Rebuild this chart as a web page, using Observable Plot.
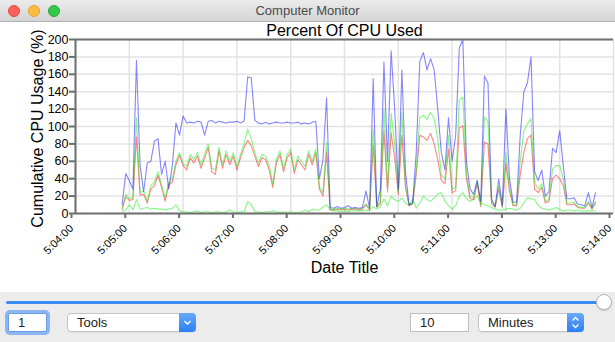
<!DOCTYPE html>
<html><head><meta charset="utf-8">
<script src="https://cdn.jsdelivr.net/npm/d3@7"></script>
<script src="https://cdn.jsdelivr.net/npm/@observablehq/plot@0.6"></script>
<style>
html,body{margin:0;padding:0;width:615px;height:342px;overflow:hidden;background:#fff;font-family:"Liberation Sans",Arial,Helvetica,sans-serif;}
#titlebar{position:absolute;left:0;top:0;width:615px;height:22px;background:linear-gradient(#ebebeb,#d4d4d4);border-bottom:1px solid #b3b3b3;box-sizing:border-box;text-align:center;font-size:13px;line-height:21px;color:#4a4a4a;}
.light{position:absolute;top:5px;width:12px;height:12px;border-radius:50%;box-sizing:border-box;}
#chart{position:absolute;left:0;top:22px;width:615px;height:270px;}
#controls{position:absolute;left:0;top:292px;width:615px;height:50px;background:#ececec;font-size:13px;color:#222;}
#track{position:absolute;left:6px;top:9px;width:592px;height:3px;border-radius:2px;background:#3b8cf5;}
#knob{position:absolute;left:596px;top:2px;width:16px;height:16px;border-radius:50%;background:#fff;border:1px solid #b5b5b5;box-sizing:border-box;box-shadow:0 1px 1px rgba(0,0,0,.15);}
.field{position:absolute;top:21px;height:19px;background:#fff;border:1px solid #bdbdbd;box-sizing:border-box;line-height:18px;padding-left:9px;}
.focus{box-shadow:0 0 0 3px #8cb6f3;border-color:#6c9ee8;border-radius:2px;}
.popup{position:absolute;top:21px;height:19px;background:#fff;border:1px solid #c4c4c4;border-radius:4px;box-sizing:border-box;line-height:18px;padding-left:9px;box-shadow:0 1px 0 rgba(0,0,0,.05);}
.btn{position:absolute;right:-1px;top:-1px;width:17px;height:19px;border-radius:0 4px 4px 0;background:linear-gradient(#6aa9fb,#2a7ff5);}
.btn svg{position:absolute;left:0;top:0;}
</style></head><body>
<div id="titlebar">Computer Monitor
  <div class="light" style="left:8px;background:#fc605b;border:1px solid #de4a45;"></div>
  <div class="light" style="left:28px;background:#fdbc40;border:1px solid #dea236;"></div>
  <div class="light" style="left:48px;background:#34c84a;border:1px solid #27aa35;"></div>
</div>
<div id="chart"></div>
<div id="controls">
  <div id="track"></div>
  <div id="knob"></div>
  <div class="field focus" style="left:8px;width:39px;">1</div>
  <div class="popup" style="left:67px;width:129px;">Tools<div class="btn"><svg width="17" height="19"><path d="M5.5 8 L8.5 11 L11.5 8" fill="none" stroke="#fff" stroke-width="1.4"/></svg></div></div>
  <div class="field" style="left:410px;width:59px;">10</div>
  <div class="popup" style="left:478px;width:106px;">Minutes<div class="btn"><svg width="17" height="19"><path d="M5.5 7.5 L8.5 4.5 L11.5 7.5 M5.5 11.5 L8.5 14.5 L11.5 11.5" fill="none" stroke="#fff" stroke-width="1.4"/></svg></div></div>
</div>
<script>
// ---- data ----
const chartTitle = "Percent Of CPU Used";
const xTitle = "Date Title";
const yTitle = "Cumulative CPU Usage (%)";
const xTickLabels = ["5:04:00","5:05:00","5:06:00","5:07:00","5:08:00","5:09:00","5:10:00","5:11:00","5:12:00","5:13:00","5:14:00"];
const yTicks = [0,20,40,60,80,100,120,140,160,180,200];
const firstSample = "5:04:52";   // first sample time
const sampleStepSeconds = 4;     // sampling interval

// blue: cumulative
const cumulative = [
  10,46,38,28,176,55,25,58,60,83,86,45,60,28,55,
  104,90,112,104,105,104,106,105,90,106,107,104,106,105,104,
  105,105,106,104,106,157,156,107,104,103,105,103,104,105,104,
  104,105,104,104,105,103,104,103,105,106,40,62,133,7,6,
  8,6,7,9,6,7,6,7,26,6,155,8,28,174,60,
  187,120,28,165,48,10,12,70,175,185,165,178,165,120,70,
  50,110,60,90,190,200,60,28,22,38,14,158,150,17,8,
  40,9,120,40,13,13,90,140,150,180,48,38,50,20,25,
  75,70,95,55,17,17,18,11,10,9,24,7,24
];
// green (upper)
const processA = [
  6,22,17,18,110,24,26,14,32,36,48,33,18,36,40,
  60,70,58,54,68,62,70,56,68,80,52,50,76,56,72,
  60,70,54,68,80,97,86,70,58,68,66,55,34,62,72,
  52,68,74,50,66,60,54,72,60,74,30,24,82,5,5,
  6,5,6,5,6,6,5,6,11,5,97,8,14,120,30,
  115,80,25,116,32,10,12,50,110,113,108,116,109,85,44,
  40,90,28,30,130,134,45,20,18,38,10,111,106,14,8,
  32,8,70,30,10,10,60,95,103,109,36,28,34,14,16,
  51,55,55,40,12,12,13,8,7,7,14,6,14
];
// red
const processB = [
  5,19,15,16,88,21,22,12,28,32,44,30,14,33,36,
  56,67,55,50,64,58,66,52,64,76,48,45,72,52,68,
  56,66,50,64,76,84,78,66,54,64,62,50,30,58,68,
  48,64,70,46,62,56,50,68,56,70,28,20,70,4,4,
  5,4,5,4,5,5,4,5,10,4,78,7,12,95,25,
  93,63,22,90,30,9,11,45,90,88,84,92,80,62,38,
  34,74,24,26,98,101,40,17,16,34,8,82,80,12,7,
  28,7,58,26,9,9,45,70,86,90,28,24,30,12,14,
  40,44,40,32,10,10,11,7,6,6,12,5,12
];
// green (lower)
const processC = [
  3,4,10,4,16,5,6,7,5,6,5,5,4,5,6,
  10,3,2,2,1,2,3,1,2,2,1,2,2,1,2,
  4,2,1,2,2,14,10,2,2,1,2,2,3,2,1,
  2,1,2,1,1,2,4,2,5,4,4,8,10,4,3,
  3,2,3,2,3,3,3,3,4,3,8,5,8,17,9,
  20,16,14,18,12,9,17,6,12,20,16,14,18,22,24,
  14,9,5,9,20,24,17,14,16,20,12,10,9,7,5,
  4,4,5,6,5,4,6,12,18,17,16,9,6,5,4,
  5,7,5,3,4,4,3,4,3,3,3,3,4
];
const seriesNames = ["processC","processB","processA","cumulative"];
const seriesColors = ["#10f010","#ff1010","#10f010","#1010ff"];

// ---- build ----
const toDate = s => { const [h,m,sec] = s.split(":").map(Number); return new Date(Date.UTC(2024,0,1,h,m,sec)); };
const tickDates = xTickLabels.map(toDate);
const t0 = toDate(firstSample).getTime();
const seriesValues = {processC, processB, processA, cumulative};
const tables = seriesNames.map(name => seriesValues[name].map((v,i) => ({time: new Date(t0 + i*sampleStepSeconds*1000), value: v, series: name})));

const font = "Liberation Sans, Arial, Helvetica, sans-serif";
const axisStroke = "#6e6e6e";
const plot = Plot.plot({
  width: 615, height: 270,
  marginLeft: 75, marginRight: 2, marginTop: 17, marginBottom: 79,
  style: {fontFamily: font, background: "transparent", overflow: "visible", color: "black"},
  x: {type: "utc", domain: [tickDates[0], tickDates[tickDates.length-1]]},
  y: {domain: [0, 200]},
  marks: [
    Plot.gridY({ticks: yTicks, stroke: "#e3e3e3", strokeOpacity: 1, strokeWidth: 1.5}),
    Plot.gridX({ticks: tickDates, stroke: "#e3e3e3", strokeOpacity: 1, strokeWidth: 1.5}),
    ...tables.map((tab, k) => Plot.lineY(tab, {x: "time", y: "value", stroke: seriesColors[k], strokeOpacity: 0.5, strokeWidth: 1.1})),
    Plot.ruleY([0], {stroke: axisStroke, strokeWidth: 2}),
    Plot.ruleY([200], {stroke: axisStroke, strokeWidth: 2}),
    Plot.ruleX([tickDates[0]], {stroke: axisStroke, strokeWidth: 2}),
    Plot.axisY({ticks: yTicks, tickSize: 6, tickPadding: 1, fontSize: 12.5, stroke: axisStroke, strokeWidth: 2, label: null}),
    Plot.axisX({ticks: tickDates, tickSize: 5, tickPadding: 8, tickRotate: -45, fontSize: 11, stroke: axisStroke, strokeWidth: 2, label: null, dx: -4, tickFormat: d3.utcFormat("%-H:%M:%S")}),
    Plot.text([chartTitle], {text: d => d, frameAnchor: "top", dy: -9, fontSize: 16, lineAnchor: "middle"}),
    Plot.text([xTitle], {text: d => d, frameAnchor: "bottom", dy: 54, fontSize: 16, lineAnchor: "middle"}),
    Plot.text([yTitle], {text: d => d, frameAnchor: "left", dx: -38, dy: 2, rotate: -90, fontSize: 16, textAnchor: "middle", lineAnchor: "middle"})
  ]
});
document.getElementById("chart").appendChild(plot);
</script>
</body></html>
